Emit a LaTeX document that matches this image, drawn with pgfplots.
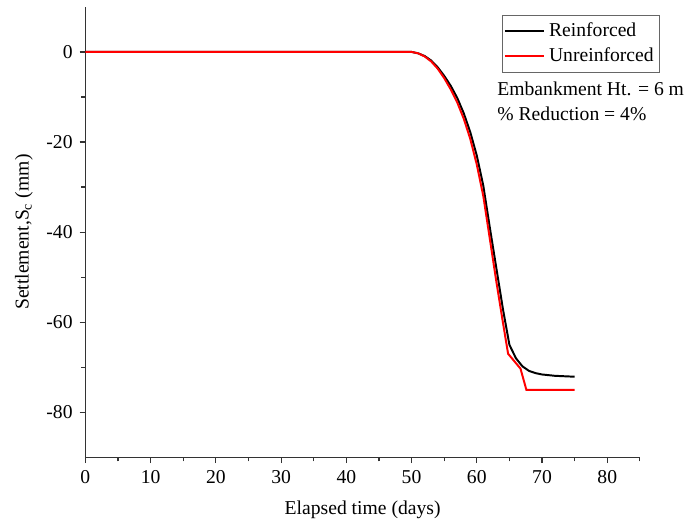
\documentclass[border=0pt]{standalone}
\usepackage{fontspec}
\setmainfont{Liberation Serif}
\usepackage{pgfplots}
\pgfplotsset{compat=1.18}
\begin{document}
\fontsize{10}{12}\selectfont
\begin{tikzpicture}
\begin{axis}[
  scale only axis,
  width=282.5pt, height=229.5pt,
  xmin=0, xmax=85, ymin=-90, ymax=10,
  axis lines=left,
  axis line style={-, line width=0.6pt, black!80},
  xtick={0,10,...,80},
  minor xtick={5,15,...,85},
  ytick={-80,-60,-40,-20,0},
  minor ytick={-70,-50,-30,-10},
  tick align=outside,
  major tick length=3pt, minor tick length=2pt,
  tick style={line width=0.6pt, black!80},
  /pgf/number format/assume math mode=true,
  ticklabel style={font=\fontsize{10}{12}\selectfont},
  xlabel={Elapsed time (days)},
  ylabel={Settlement,S\textsubscript{c} (mm)},
  label style={font=\fontsize{10}{12}\selectfont},
  xlabel style={yshift=-2pt},
  clip=false,
  legend style={at={(axis cs:63.8,8.3)}, anchor=north west, draw=black!60, line width=0.4pt,
    font=\fontsize{10}{12}\selectfont, inner xsep=1pt, inner ysep=2pt, row sep=0pt},
  legend cell align=left,
  legend image code/.code={\draw[#1] (0pt,0pt) -- (20pt,0pt);},
]
\addplot[black, line width=1pt] coordinates {
  (0,0) (50,0) (51,-0.3) (52,-0.9) (53,-1.9) (54,-3.4) (55,-5.3) (56,-7.5)
  (57,-10.2) (58,-13.6) (59,-17.8) (60,-23) (61,-29.7) (62,-39) (63,-48)
  (64,-57) (65,-65) (66,-68) (67,-69.8) (68,-70.8) (69,-71.3) (70,-71.6)
  (72,-71.9) (75,-72.1)
};
\addlegendentry{Reinforced}
\addplot[red, line width=1pt] coordinates {
  (0,0) (50,0) (51,-0.3) (52,-1) (53,-2.1) (54,-3.7) (55,-5.8) (56,-8.3)
  (57,-11.2) (58,-14.8) (59,-19.3) (60,-25) (61,-32) (62,-41.5) (63,-51)
  (64,-60) (64.8,-67) (66.7,-70.3) (67.6,-75) (75,-75)
};
\addlegendentry{Unreinforced}
\node[anchor=north west, align=left, inner sep=0pt, font=\fontsize{10}{12.8}\selectfont]
  at (axis cs:63.1,-6.6) {Embankment Ht. = 6 m\\\% Reduction = 4\%};
\path (rel axis cs:-0.154,-0.1547) rectangle (rel axis cs:1.0566,1.0153);
\end{axis}
\end{tikzpicture}
\end{document}
